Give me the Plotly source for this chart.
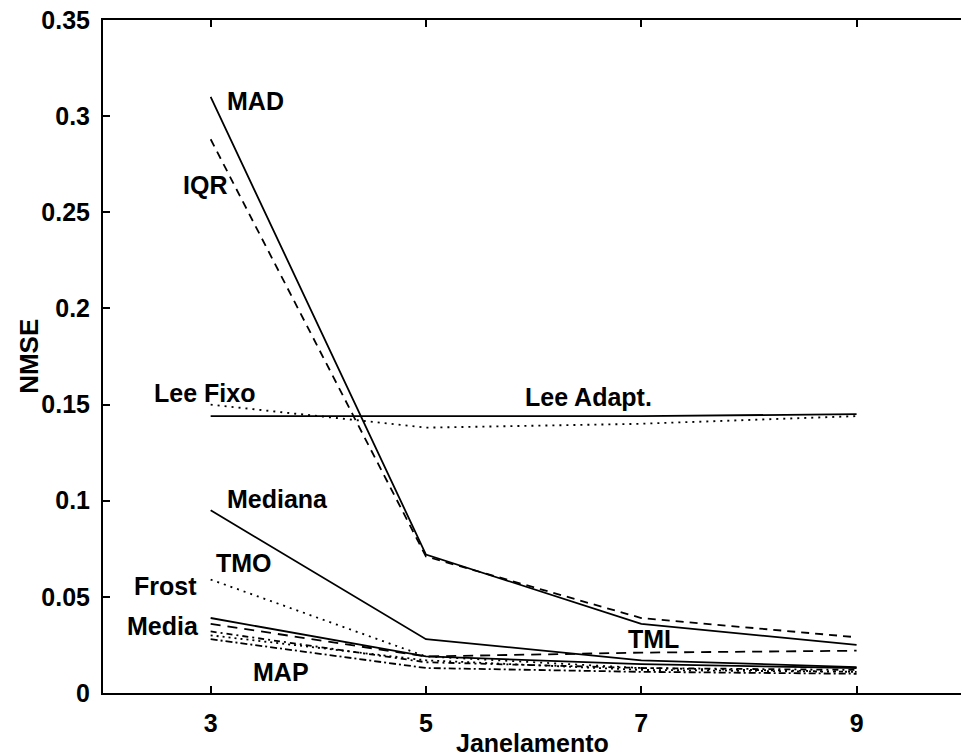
import plotly.graph_objects as go

janela = [3, 5, 7, 9]

mad = [0.310, 0.072, 0.036, 0.025]
iqr = [0.288, 0.071, 0.039, 0.029]
lee_fixo = [0.150, 0.138, 0.140, 0.144]
lee_adapt = [0.144, 0.144, 0.144, 0.145]
mediana = [0.095, 0.028, 0.017, 0.0135]
frost = [0.059, 0.019, 0.013, 0.011]
media = [0.039, 0.019, 0.015, 0.013]
tml = [0.036, 0.019, 0.021, 0.022]
tmo = [0.032, 0.016, 0.013, 0.012]
dotted_low = [0.030, 0.017, 0.012, 0.011]
map_ = [0.028, 0.013, 0.011, 0.010]

series = [
    ("MAD", mad, "solid"),
    ("IQR", iqr, "8px,6px"),
    ("Lee Fixo", lee_fixo, "2px,5px"),
    ("Lee Adapt.", lee_adapt, "solid"),
    ("Mediana", mediana, "solid"),
    ("Frost", frost, "2px,5px"),
    ("Media", media, "solid"),
    ("TML", tml, "10px,7px"),
    ("TMO", tmo, "6px,4px,2px,4px"),
    ("Outro", dotted_low, "2px,4px"),
    ("MAP", map_, "7px,3px,2px,3px"),
]

labels = ["MAD", "IQR", "Lee Fixo", "Lee Adapt.", "Mediana", "TMO", "Frost", "Media", "MAP", "TML"]
label_x = [3.42, 2.95, 2.94, 6.51, 3.62, 3.31, 2.58, 2.56, 3.65, 7.11]
label_y = [0.308, 0.264, 0.156, 0.154, 0.101, 0.0676, 0.0556, 0.0349, 0.011, 0.028]

y_ticks = [0, 0.05, 0.1, 0.15, 0.2, 0.25, 0.3, 0.35]
y_tick_text = ["0", "0.05", "0.1", "0.15", "0.2", "0.25", "0.3", "0.35"]
x_ticks = [3, 5, 7, 9]

FONT = "Liberation Sans"

fig = go.Figure()
for name, vals, dash in series:
    fig.add_trace(go.Scatter(x=janela, y=vals, mode="lines", name=name,
                             line=dict(color="black", width=1.8, dash=dash),
                             showlegend=False))

for t, lx, ly in zip(labels, label_x, label_y):
    fig.add_annotation(x=lx, y=ly, xref="x", yref="y", text=t, showarrow=False,
                       font=dict(family=FONT, size=25, color="black", weight="bold"))

# axis titles
fig.add_annotation(x=0.5, y=-0.074, xref="paper", yref="paper", text="Janelamento",
                   showarrow=False, xanchor="center", yanchor="middle",
                   font=dict(family=FONT, size=25, color="black", weight="bold"))
fig.add_annotation(x=-0.087, y=0.5, xref="paper", yref="paper", text="NMSE",
                   showarrow=False, textangle=-90, xanchor="center", yanchor="middle",
                   font=dict(family=FONT, size=26, color="black", weight="bold"))

fig.update_layout(
    width=961, height=756,
    margin=dict(l=103, r=0, t=20, b=63),
    paper_bgcolor="white", plot_bgcolor="white",
    font=dict(family=FONT, color="black"),
    xaxis=dict(range=[2, 9.97], tickvals=x_ticks, ticktext=[str(v) for v in x_ticks],
               ticks="inside", ticklen=7, tickwidth=1.5, tickcolor="black",
               showline=True, linecolor="black", linewidth=2, mirror="ticks",
               showgrid=False, zeroline=False, ticklabelstandoff=7,
               tickfont=dict(family=FONT, size=25, color="black", weight="bold")),
    yaxis=dict(range=[0, 0.35], tickvals=y_ticks, ticktext=y_tick_text,
               ticks="inside", ticklen=7, tickwidth=1.5, tickcolor="black",
               showline=True, linecolor="black", linewidth=2, mirror=False,
               showgrid=False, zeroline=False, ticklabelstandoff=6,
               tickfont=dict(family=FONT, size=25, color="black", weight="bold")),
)

fig.write_html("out.html")
